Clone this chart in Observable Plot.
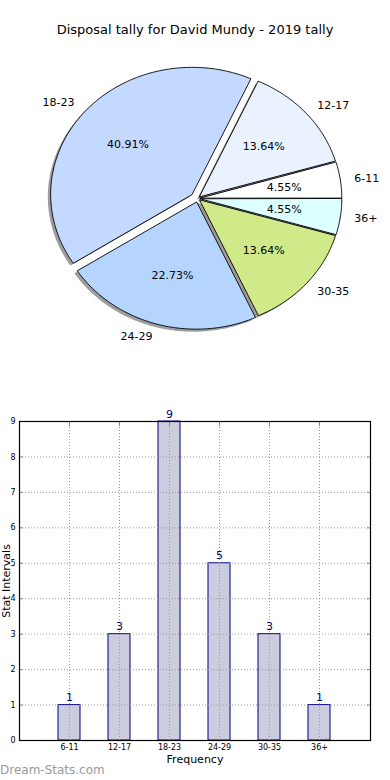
<!DOCTYPE html>
<html><head><meta charset="utf-8">
<script src="https://cdn.jsdelivr.net/npm/d3@7"></script>
<script src="https://cdn.jsdelivr.net/npm/@observablehq/plot@0.6"></script>
<style>
body{margin:0;background:#fff;width:390px;height:780px;position:relative;overflow:hidden;font-family:"DejaVu Sans",sans-serif;}
#title{position:absolute;left:0;top:21px;width:390px;text-align:center;font-size:13px;line-height:18px;color:#000;}
#pie{position:absolute;left:0;top:50px;}
#bar{position:absolute;left:0;top:400px;}
#wm{position:absolute;left:0;top:762px;font-size:12px;line-height:16px;color:#999;font-weight:normal;}
</style></head><body>
<div id="title">Disposal tally for David Mundy - 2019 tally</div>
<div id="pie"></div>
<div id="bar"></div>
<div id="wm">Dream-Stats.com</div>
<script>
const categories = ["6-11","12-17","18-23","24-29","30-35","36+"];
const counts = [1,3,9,5,3,1];
const pieColors = ["#ffffff","#ebf2ff","#c4d9ff","#b5d5ff","#d0ea8a","#dcffff"];
const explode = [0.02,0.02,0.05,0.03,0.02,0.02];
const yTicks = [0,1,2,3,4,5,6,7,8,9];

// Pie geometry computed from counts
const total = d3.sum(counts);
let acc = 0;
const slices = categories.map((c,i)=>{
  const t1 = acc, t2 = acc + counts[i]/total*360; acc = t2;
  const mid = (t1+t2)/2*Math.PI/180;
  return {c, i, pct: counts[i]/total*100, t1, t2, mid,
    ex: explode[i]*Math.cos(mid), ey: explode[i]*Math.sin(mid), color: pieColors[i]};
});
const pts = [];
for (const s of slices) {
  pts.push({key:s.c, x:s.ex, y:s.ey, color:s.color});
  const n = Math.max(2, Math.ceil(s.t2 - s.t1));
  for (let k=0;k<=n;k++){
    const t = (s.t1 + (s.t2-s.t1)*k/n)*Math.PI/180;
    pts.push({key:s.c, x:s.ex+Math.cos(t), y:s.ey+Math.sin(t), color:s.color});
  }
}
const shadowPts = pts.map(p=>({...p, x:p.x-0.02, y:p.y-0.02}));
const lx = s => s.ex + 1.1*Math.cos(s.mid);
const ly = s => s.ey + 1.1*Math.sin(s.mid);

const pie = Plot.plot({
  width:390, height:310, margin:0,
  x:{domain:[-197/141.5, 193/141.5], axis:null},
  y:{domain:[-162/127, 148/127], axis:null},
  color:{type:"identity"},
  style:{fontFamily:"DejaVu Sans", fontSize:"11px", background:"transparent"},
  marks:[
    Plot.line(shadowPts,{x:"x",y:"y",z:"key",fill:"#4d4d4d",fillOpacity:0.55,stroke:"none",curve:"linear-closed"}),
    Plot.line(pts,{x:"x",y:"y",z:"key",fill:"color",stroke:"black",strokeWidth:0.9,curve:"linear-closed"}),
    Plot.text(slices,{filter: s=>lx(s)>0, x:lx, y:ly, text:"c", textAnchor:"start", fill:"black"}),
    Plot.text(slices,{filter: s=>lx(s)<=0, x:lx, y:ly, text:"c", textAnchor:"end", fill:"black"}),
    Plot.text(slices,{x: s=>s.ex+0.6*Math.cos(s.mid), y: s=>s.ey+0.6*Math.sin(s.mid), text: s=>s.pct.toFixed(2)+"%", fill:"black"})
  ]
});
document.getElementById("pie").appendChild(pie);

const barData = categories.map((c,i)=>({cat:c, v:counts[i]}));
const bar = Plot.plot({
  width:390, height:380, marginTop:21, marginBottom:40, marginLeft:19, marginRight:20,
  x:{type:"band", domain:categories, paddingInner:0.55, paddingOuter:0.78, label:null},
  y:{domain:[0,9], label:null},
  style:{fontFamily:"DejaVu Sans", fontSize:"8px", background:"transparent"},
  marks:[
    Plot.barY(barData,{x:"cat",y:"v",fill:"#ccccdf",stroke:"#000080",strokeWidth:1}),
    Plot.gridY(yTicks,{stroke:"#999",strokeOpacity:1,strokeDasharray:"1,2"}),
    Plot.gridX(categories,{stroke:"#999",strokeOpacity:1,strokeDasharray:"1,2"}),
    Plot.axisY(yTicks,{anchor:"left", tickSize:-4, tickPadding:8, stroke:"#888", fontSize:8}),
    Plot.axisY(yTicks,{anchor:"right", tickSize:-4, tickFormat:()=>"", stroke:"#888"}),
    Plot.axisX(categories,{anchor:"bottom", tickSize:0, tickPadding:4, fontSize:8}),
    Plot.axisX(categories,{anchor:"top", tickSize:-4, tickFormat:()=>"", stroke:"#888"}),
    Plot.frame({stroke:"black", strokeWidth:1.2}),
    Plot.text(barData,{x:"cat", y:"v", text:d=>String(d.v), dy:-4, lineAnchor:"bottom", fill:"#000080", fontSize:11}),
    Plot.text(["Stat Intervals"],{frameAnchor:"left", textAnchor:"middle", rotate:-90, dx:-13, text:d=>d, fontSize:11, fill:"black"}),
    Plot.text(["Frequency"],{frameAnchor:"bottom", textAnchor:"middle", dy:22, text:d=>d, fontSize:11, fill:"black"})
  ]
});
document.getElementById("bar").appendChild(bar);
</script>
</body></html>
